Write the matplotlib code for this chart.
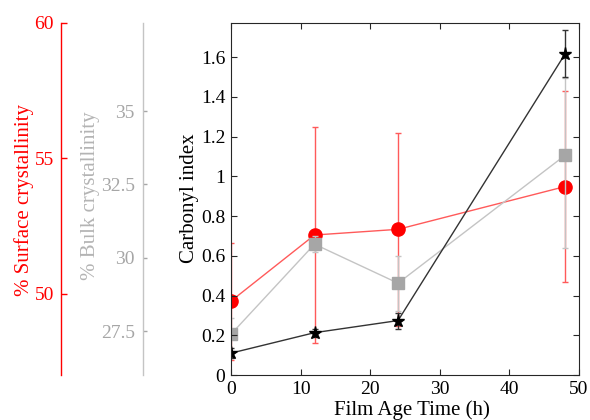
import matplotlib
matplotlib.use("Agg")
import matplotlib.pyplot as plt
import numpy as np

plt.rcParams['font.family'] = ['Liberation Serif', 'DejaVu Serif']

# ---- data ----
time_h = [0, 12, 24, 48]

carbonyl = [0.110, 0.213, 0.274, 1.616]
carbonyl_err = [0.025, 0.02, 0.04, 0.118]

surface_cryst = [49.73, 52.17, 52.38, 53.96]
surface_err = [2.16, 3.99, 3.57, 3.53]

bulk_cryst = [27.39, 30.46, 29.13, 33.49]
bulk_err_low = [0.57, 0.27, 0.94, 3.15]
bulk_err_high = [0.57, 0.27, 0.94, 2.62]

x_ticks = [0, 10, 20, 30, 40, 50]
ci_ticks = [0, 0.2, 0.4, 0.6, 0.8, 1, 1.2, 1.4, 1.6]
ci_ticklabels = ['0', '0.2', '0.4', '0.6', '0.8', '1', '1.2', '1.4', '1.6']
surf_ticks = [50, 55, 60]
bulk_ticks = [27.5, 30, 32.5, 35]
bulk_ticklabels = ['27.5', '30', '32.5', '35']

RED = '#ff0000'
RED_L = '#ff5a5a'
GRAY = '#a6a6a6'
GRAY_L = '#c4c4c4'
DARK = '#262626'

fig = plt.figure(figsize=(5.9, 4.2), dpi=100)
pos = [231/590, 45/420, 348/590, 352/420]

ax_r = fig.add_axes(pos)
ax_g = fig.add_axes(pos, sharex=ax_r)
ax = fig.add_axes(pos, sharex=ax_r)

for a, z in ((ax_r, 1), (ax_g, 2), (ax, 3)):
    a.set_zorder(z)
    a.patch.set_visible(False)

# ---- surface crystallinity (red) ----
ax_r.errorbar(time_h, surface_cryst, yerr=surface_err, fmt='none',
              ecolor=RED_L, elinewidth=1.0, capsize=2.5, capthick=1.0)
ax_r.plot(time_h, surface_cryst, '-', color=RED_L, lw=1.0,
          marker='o', ms=9.5, mfc=RED, mec=RED)
ax_r.set_ylim(47, 60)
for s in ('right', 'top', 'bottom'):
    ax_r.spines[s].set_visible(False)
ax_r.spines['left'].set_position(('axes', (61 - 231) / 348))
ax_r.spines['left'].set_color(RED)
ax_r.spines['left'].set_linewidth(1.0)
ax_r.set_yticks(surf_ticks)
ax_r.tick_params(axis='y', colors=RED, labelsize=14, direction='in',
                 length=4, width=1.0, pad=5)
ax_r.tick_params(axis='x', which='both', bottom=False, labelbottom=False)

# ---- bulk crystallinity (gray) ----
ax_g.errorbar(time_h, bulk_cryst, yerr=[bulk_err_low, bulk_err_high], fmt='none',
              ecolor=GRAY_L, elinewidth=1.0, capsize=2.5, capthick=1.0)
ax_g.plot(time_h, bulk_cryst, '-', color=GRAY_L, lw=1.0,
          marker='s', ms=8, mfc=GRAY, mec=GRAY)
ax_g.set_ylim(26, 38)
for s in ('right', 'top', 'bottom'):
    ax_g.spines[s].set_visible(False)
ax_g.spines['left'].set_position(('axes', (143 - 231) / 348))
ax_g.spines['left'].set_color(GRAY_L)
ax_g.spines['left'].set_linewidth(1.0)
ax_g.set_yticks(bulk_ticks)
ax_g.set_yticklabels(bulk_ticklabels)
ax_g.tick_params(axis='y', colors=GRAY, labelsize=14, direction='in',
                 length=3, width=1.0, pad=6)
ax_g.tick_params(axis='x', which='both', bottom=False, labelbottom=False)

# ---- carbonyl index (black) ----
ax.errorbar(time_h, carbonyl, yerr=carbonyl_err, fmt='none',
            ecolor='#333333', elinewidth=1.0, capsize=2.5, capthick=1.0)
ax.plot(time_h, carbonyl, '-', color='#333333', lw=1.0,
        marker='*', ms=9.5, mfc='black', mec='black')
ax.set_xlim(0, 50)
ax.set_ylim(0, 1.7716)
ax.set_xticks(x_ticks)
ax.set_yticks(ci_ticks)
ax.set_yticklabels(ci_ticklabels)
for s in ax.spines.values():
    s.set_color(DARK)
    s.set_linewidth(0.8)
ax.tick_params(axis='both', which='both', direction='in', length=4, width=0.8,
               colors=DARK, labelcolor='black', labelsize=14,
               top=True, right=True)
ax.tick_params(axis='x', pad=4)
ax.tick_params(axis='y', pad=4)

# ---- axis titles ----
fig.text(190/590, (420 - 198)/420, 'Carbonyl index', rotation=90,
         ha='center', va='center', fontsize=15, color='black')
fig.text(90/590, (420 - 196)/420, '% Bulk crystallinity', rotation=90,
         ha='center', va='center', fontsize=15, color='#b4b4b4')
fig.text(24/590, (420 - 200)/420, '% Surface crystallinity', rotation=90,
         ha='center', va='center', fontsize=15, color=RED)
fig.text(412/590, 5/420, 'Film Age Time (h)', ha='center', va='baseline',
         fontsize=15, color='black')

fig.savefig('out.png', dpi=100)
